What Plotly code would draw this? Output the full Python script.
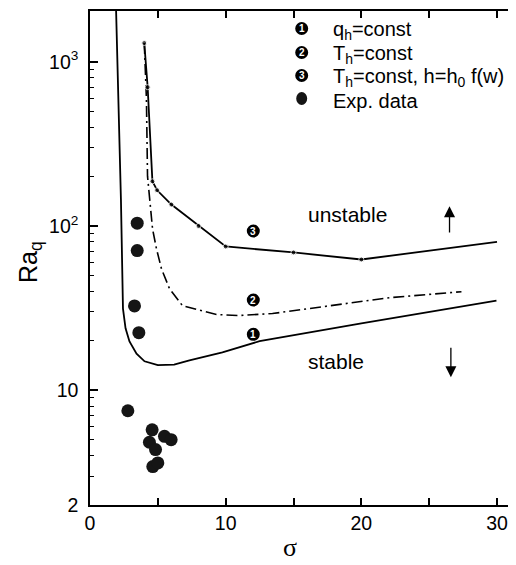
import numpy as np
import plotly.graph_objects as go

# ---- data ----
# curve 1: q_h = const (solid)
sigma1 = [1.92, 2.28, 2.43, 2.62, 2.91, 3.43, 4.02, 5.0, 6.2, 7.33, 9.76, 12.5, 20.0, 29.96]
ra1 = [2100, 146, 31.4, 23.8, 19.8, 16.7, 15.0, 14.2, 14.3, 15.2, 17.0, 19.9, 25.5, 35.1]
# curve 2: T_h = const (dash-dot)
sigma2 = [4.0, 4.16, 4.24, 4.38, 4.61, 4.90, 5.27, 5.86, 6.82, 9.32, 11.0, 13.45, 17.13, 22.07, 27.38]
ra2 = [1300, 589, 201, 146, 95.9, 72.6, 54.8, 41.5, 32.7, 28.9, 28.5, 29.3, 32.3, 36.6, 39.8]
# curve 3: T_h = const, h = h0 f(w) (solid with dots)
sigma3 = [4.0, 4.25, 4.6, 4.95, 6.0, 8.0, 10.0, 15.0, 20.0, 30.0]
ra3 = [1300, 700, 187, 165, 135, 100, 75, 69, 62.5, 80]
# experimental data
sigma_exp = [3.48, 3.48, 3.28, 3.6, 2.79, 4.58, 4.38, 4.83, 5.49, 5.98, 4.63, 5.0]
ra_exp = [104, 70.8, 32.6, 22.4, 7.5, 5.74, 4.82, 4.35, 5.24, 5.0, 3.43, 3.61]

x_ticks = [0, 5, 10, 15, 20, 25, 30]
x_ticktext = ["0", "", "10", "", "20", "", "30"]
y_ticks = [2, 10, 100, 1000]
y_ticktext = ["2", "10", "10<sup>2</sup>", "10<sup>3</sup>"]
y_minor = [3, 4, 5, 6, 7, 8, 9, 20, 30, 40, 50, 60, 70, 80, 90,
           200, 300, 400, 500, 600, 700, 800, 900]

legend_labels = ["q<sub>h</sub>=const", "T<sub>h</sub>=const",
                 "T<sub>h</sub>=const, h=h<sub>0</sub> f(w)", "Exp. data"]

FONT = "Liberation Sans, Arial, sans-serif"
OFF = 8                      # default page margin of the html body
W, H = 516 - OFF, 565 - OFF
ML, MR, MT, MB = 90 - OFF, 0, 11 - OFF, 60
PW, PH = W - ML - MR, H - MT - MB
X0, YB = OFF + ML, OFF + H - MB   # screen position of plot left / bottom


def px(xp):
    return (xp - X0) / PW


def py(yp):
    return (YB - yp) / PH


fig = go.Figure()
fig.add_trace(go.Scatter(x=sigma1, y=ra1, mode="lines",
                         line=dict(color="black", width=1.8), showlegend=False))
fig.add_trace(go.Scatter(x=sigma2, y=ra2, mode="lines",
                         line=dict(color="black", width=1.6, dash="11px,4px,2px,4px"),
                         showlegend=False))
fig.add_trace(go.Scatter(x=sigma3, y=ra3, mode="lines+markers",
                         line=dict(color="black", width=1.8),
                         marker=dict(color="black", size=[5] * (len(sigma3) - 1) + [0]),
                         showlegend=False))
fig.add_trace(go.Scatter(x=sigma_exp, y=ra_exp, mode="markers",
                         marker=dict(color="#151515", size=13, line=dict(width=0)),
                         showlegend=False))

shapes = []
annotations = []


def circled(xp, yp, digit):
    shapes.append(dict(type="circle", xref="paper", yref="paper",
                       xsizemode="pixel", ysizemode="pixel",
                       xanchor=px(xp), yanchor=py(yp),
                       x0=-6.5, x1=6.5, y0=-6.5, y1=6.5,
                       fillcolor="black", line=dict(width=0)))
    if digit:
        annotations.append(dict(xref="paper", yref="paper", x=px(xp), y=py(yp),
                                text="<b>%s</b>" % digit, showarrow=False,
                                font=dict(family=FONT, size=10, color="white"),
                                xanchor="center", yanchor="middle"))


# legend
leg_y = [28.5, 52.5, 75.5, 98.5]
for i, (lab, yy) in enumerate(zip(legend_labels, leg_y)):
    if i < 3:
        circled(301.7, yy, str(i + 1))
    else:
        shapes.append(dict(type="circle", xref="paper", yref="paper",
                           xsizemode="pixel", ysizemode="pixel",
                           xanchor=px(301.7), yanchor=py(yy),
                           x0=-5.5, x1=5.5, y0=-6.5, y1=6.5,
                           fillcolor="#151515", line=dict(width=0)))
    annotations.append(dict(xref="paper", yref="paper", x=px(331), y=py(yy + 2),
                            text=lab, showarrow=False, xanchor="left", yanchor="middle",
                            font=dict(family=FONT, size=20, color="black")))

# labels in plot
circled(253.3, 231, "3")
circled(253.3, 300, "2")
circled(253.3, 334.3, "1")

annotations.append(dict(x=19.0, y=np.log10(118), xref="x", yref="y", text="unstable",
                        showarrow=False, font=dict(family=FONT, size=21, color="black")))
annotations.append(dict(x=18.14, y=np.log10(14.9), xref="x", yref="y", text="stable",
                        showarrow=False, font=dict(family=FONT, size=21, color="black")))
# arrows
annotations.append(dict(x=26.5, y=np.log10(132), ax=26.5, ay=np.log10(89.5),
                        xref="x", yref="y", axref="x", ayref="y", text="",
                        showarrow=True, arrowhead=2, arrowsize=1.7, arrowwidth=1.3,
                        arrowcolor="black"))
annotations.append(dict(x=26.6, y=np.log10(12.0), ax=26.6, ay=np.log10(18.5),
                        xref="x", yref="y", axref="x", ayref="y", text="",
                        showarrow=True, arrowhead=2, arrowsize=1.7, arrowwidth=1.3,
                        arrowcolor="black"))

# axis titles
annotations.append(dict(xref="paper", yref="paper", x=px(30), y=py(262),
                        text="Ra<sub>q</sub>", textangle=-90, showarrow=False,
                        xanchor="center", yanchor="middle",
                        font=dict(family=FONT, size=25, color="black")))
annotations.append(dict(xref="paper", yref="paper", x=px(290), y=py(564),
                        text="σ", showarrow=False, xanchor="center", yanchor="bottom",
                        font=dict(family="Liberation Serif, Times New Roman, serif",
                                  size=26, color="black")))

fig.update_layout(
    width=W, height=H,
    margin=dict(l=ML, r=MR, t=MT, b=MB),
    paper_bgcolor="white", plot_bgcolor="white",
    shapes=shapes, annotations=annotations,
    xaxis=dict(range=[0, 31.4], tickmode="array", tickvals=x_ticks, ticktext=x_ticktext,
               ticks="inside", ticklen=7, tickwidth=1.5, tickcolor="black",
               showline=True, linewidth=1.5, linecolor="black", mirror="ticks",
               showgrid=False, zeroline=False,
               tickfont=dict(family=FONT, size=19.5, color="black")),
    yaxis=dict(type="log", range=[np.log10(2), 3.309], tickmode="array",
               tickvals=y_ticks, ticktext=y_ticktext,
               ticks="inside", ticklen=8, tickwidth=1.5, tickcolor="black",
               showline=True, linewidth=1.5, linecolor="black",
               showgrid=False, zeroline=False, ticklabelstandoff=6,
               minor=dict(tickmode="array", tickvals=y_minor, ticks="inside", ticklen=4,
                          tickwidth=1.2, tickcolor="black", showgrid=False),
               tickfont=dict(family=FONT, size=19.5, color="black")),
)

fig.write_html("out.html")
